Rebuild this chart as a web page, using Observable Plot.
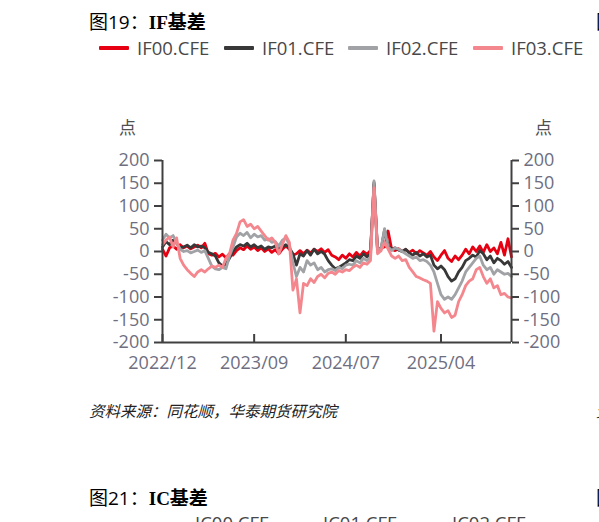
<!DOCTYPE html>
<html><head><meta charset="utf-8">
<script src="https://cdn.jsdelivr.net/npm/d3@7"></script>
<script src="https://cdn.jsdelivr.net/npm/@observablehq/plot@0.6"></script>
<style>
body{margin:0;background:#fff;}
#page{position:relative;width:599px;height:522px;overflow:hidden;background:#fff;font-family:"Open Sans","Noto Sans CJK SC",sans-serif;}
.abs{position:absolute;white-space:nowrap;}
.title{font-family:"Open Sans","Noto Sans CJK SC",sans-serif;font-size:19px;line-height:20px;color:#000;}
.title .b{font-family:"Liberation Serif","Noto Sans CJK SC",serif;font-weight:bold;}
.lg{font-size:18.5px;line-height:20px;color:#484848;}
.sw{position:absolute;height:4px;width:30px;border-radius:1px;}
.unit{font-family:"Noto Sans CJK SC",sans-serif;font-size:17px;line-height:18px;color:#505050;}
.cap{font-family:"Noto Sans CJK SC",sans-serif;font-size:15.5px;line-height:18px;font-style:italic;color:#222;}
#chart{position:absolute;left:0;top:100px;}
</style></head>
<body><div id="page">
<div class="abs title" style="left:89px;top:12px;">图19：<span class="b">IF基差</span></div>
<div class="abs title" style="left:596px;top:12px;">图20：</div>
<div id="legend"></div>
<div class="abs unit" style="left:119px;top:118px;">点</div>
<div class="abs unit" style="left:535px;top:118px;">点</div>
<div id="chart"></div>
<div class="abs cap" style="left:89px;top:401px;">资料来源：同花顺，华泰期货研究院</div>
<div class="abs cap" style="left:596px;top:401px;">资料来源</div>
<div class="abs title" style="left:89px;top:488px;">图21：<span class="b">IC基差</span></div>
<div class="abs title" style="left:596px;top:488px;">图22：</div>
<div class="abs lg" style="left:195px;top:513px;">IC00.CFE</div>
<div class="abs lg" style="left:323px;top:513px;">IC01.CFE</div>
<div class="abs lg" style="left:452px;top:513px;">IC02.CFE</div>
</div>
<script>
// ---- data ----
const seriesNames = ["IF00.CFE", "IF01.CFE", "IF02.CFE", "IF03.CFE"];
const seriesColors = ["#e60012", "#383838", "#a0a2a5", "#f4878d"];
const xTickIndex = [0, 26, 52, 79];
const xTickLabels = ["2022/12", "2023/09", "2024/07", "2025/04"];
const yTicks = [-200, -150, -100, -50, 0, 50, 100, 150, 200];

const if00 = [5,-10,8,12,5,15,8,12,6,10, 14,8,18,-5,-8,-4,-12,-6,-14,-5, -8,2,8,4,12,5,10,2,8,0, 6,-2,4,-5,5,12,5,-8,-5,2, -5,3,-3,5,0,6,-2,4,-8,-12, -18,-8,-15,-5,-12,-2,-10,0,-6,2, 148,5,8,10,45,5,2,6,0,4, -2,3,-5,2,-3,-8,0,-12,-20,-8, 2,-15,-22,-10,-18,-8,5,-5,10,0, 12,-2,15,0,8,-5,20,-8,28,-12];
const if01 = [10,22,15,25,18,8,10,14,8,15, 10,12,8,-2,-5,-10,-25,-32,-28,-15, 0,10,15,12,18,10,15,8,12,5, 10,8,12,5,10,15,8,-5,-30,-5, -10,2,-8,5,-5,0,-6,-20,-30,-38, -35,-30,-25,-18,-20,-10,-15,-5,-12,-5, 152,0,5,48,12,5,8,3,0,5, -3,-8,-2,-10,-5,-12,-8,-30,-38,-32, -40,-55,-65,-60,-45,-35,-20,-15,-8,-12, 2,-5,-18,-10,-25,-15,-20,-28,-22,-35];
const if02 = [25,38,30,35,20,5,0,2,-3,0, 3,-2,2,-15,-32,-38,-40,-35,-38,-10, 10,32,40,35,42,30,38,32,35,25, 28,20,22,12,25,30,15,-25,-55,-35, -45,-20,-30,-25,-40,-35,-45,-40,-38,-42, -35,-38,-30,-28,-30,-20,-25,-15,-20,-12, 155,2,8,50,10,2,8,5,0,-5, -10,-15,-12,-20,-18,-22,-30,-45,-70,-95, -105,-100,-105,-95,-80,-65,-45,-35,-25,-15, -10,-30,-40,-35,-50,-40,-45,-50,-48,-55];
const if03 = [15,25,32,10,30,-15,-30,-40,-48,-55, -45,-40,-45,-38,-32,-35,-30,-35,-15,-5, 25,40,65,70,55,60,50,55,45,35, 25,30,20,-5,15,35,20,-85,-60,-135, -70,-75,-60,-68,-55,-50,-58,-48,-45,-50, -42,-45,-40,-42,-35,-30,-35,-25,-28,-20, 140,-5,2,20,5,-10,-15,-10,-20,-18, -35,-45,-55,-58,-62,-65,-70,-175,-110,-125, -135,-130,-145,-140,-110,-95,-75,-65,-60,-40, -35,-55,-70,-60,-80,-75,-95,-92,-100,-102];

// ---- legend ----
const legend = document.getElementById("legend");
const swatchX = [99, 224, 348, 473];
seriesNames.forEach((name, k) => {
  const sw = document.createElement("div");
  sw.className = "sw";
  sw.style.left = swatchX[k] + "px"; sw.style.top = "46px"; sw.style.background = seriesColors[k];
  legend.appendChild(sw);
  const t = document.createElement("div");
  t.className = "abs lg";
  t.style.left = (swatchX[k] + 38) + "px"; t.style.top = "38px";
  t.textContent = name;
  legend.appendChild(t);
});

// ---- chart ----
const allSeries = [if00, if01, if02, if03];
const rows = allSeries.flatMap((vals, s) => vals.map((v, i) => ({i, v, s: seriesNames[s]})));
const n = if00.length;
const axisColor = "#404040";
const labelColor = "#6e6e80";
const fmtY = d => String(d);
const fmtX = d => xTickLabels[xTickIndex.indexOf(d)];

const chart = Plot.plot({
  width: 599, height: 280,
  marginLeft: 162, marginRight: 88, marginTop: 60, marginBottom: 38,
  style: {fontFamily: "Open Sans, sans-serif", fontSize: "18px", background: "transparent", color: labelColor, overflow: "visible"},
  x: {domain: [0, n - 1]},
  y: {domain: [yTicks[0], yTicks[yTicks.length - 1]]},
  color: {domain: seriesNames, range: seriesColors},
  marks: [
    Plot.line(rows, {x: "i", y: "v", z: "s", stroke: "s", strokeWidth: 2.8, strokeLinejoin: "round"}),
    Plot.ruleX([0, n - 1], {stroke: axisColor, strokeWidth: 2}),
    Plot.ruleY([yTicks[0]], {stroke: axisColor, strokeWidth: 2}),
    Plot.axisY({anchor: "left", ticks: yTicks, tickSize: 8, tickPadding: 5, tickFormat: fmtY, stroke: axisColor, strokeWidth: 2, fill: labelColor, label: null}),
    Plot.axisY({anchor: "right", ticks: yTicks, tickSize: 7, tickPadding: 5, tickFormat: fmtY, stroke: axisColor, strokeWidth: 2, fill: labelColor, label: null}),
    Plot.axisX({ticks: xTickIndex, tickSize: 0, tickPadding: 14, tickFormat: fmtX, fill: labelColor, label: null}),
    Plot.axisX({ticks: xTickIndex, tickSize: -8, tickFormat: () => "", stroke: axisColor, strokeWidth: 2, label: null})
  ]
});
document.getElementById("chart").appendChild(chart);
</script>
</body></html>
